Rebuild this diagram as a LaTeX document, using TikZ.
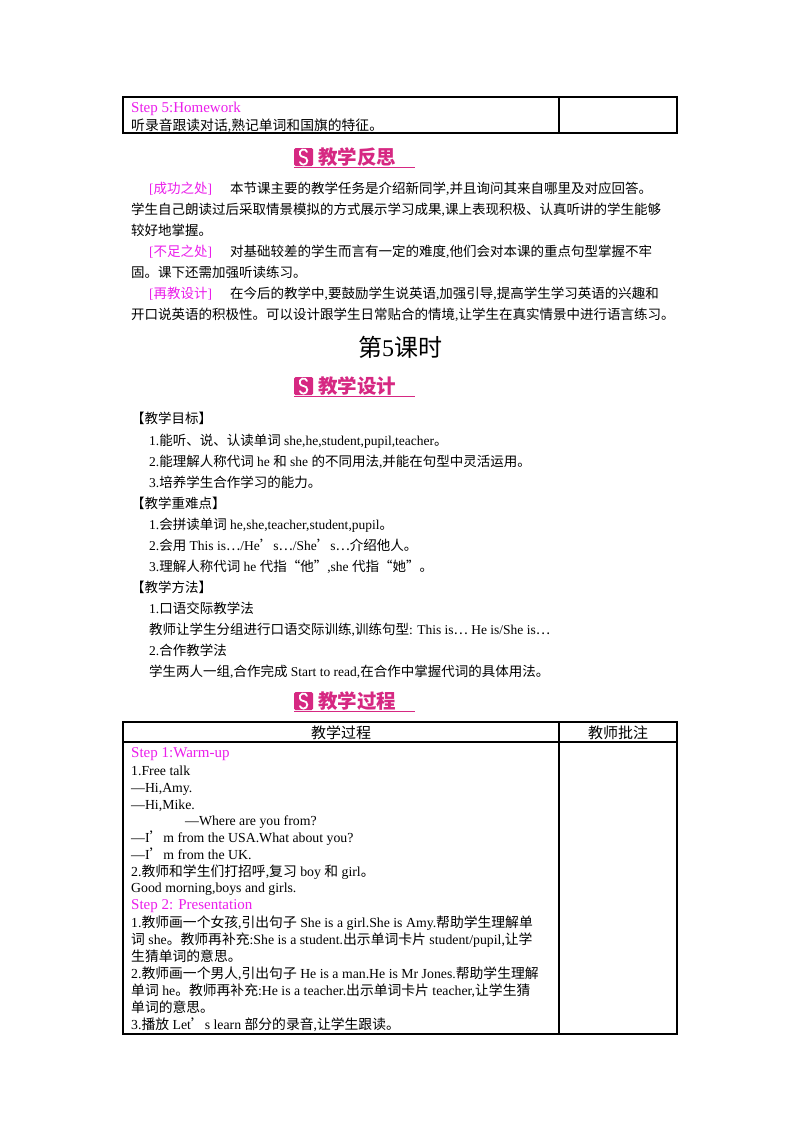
\documentclass[tikz,border=0pt]{standalone}
\usepackage{fontspec}
\setmainfont{Liberation Serif}
\newfontfamily\cjk{Noto Sans CJK SC}
\XeTeXinterchartokenstate=1
\newXeTeXintercharclass\cjkclass
\count255="4E00
\loop\XeTeXcharclass\count255=\cjkclass\advance\count255 by 1\ifnum\count255<"A000\repeat
\count255="3000
\loop\XeTeXcharclass\count255=\cjkclass\advance\count255 by 1\ifnum\count255<"3040\repeat
\count255="FF01
\loop\XeTeXcharclass\count255=\cjkclass\advance\count255 by 1\ifnum\count255<"FF5F\repeat
\XeTeXcharclass"2018=\cjkclass \XeTeXcharclass"2019=\cjkclass
\XeTeXcharclass"201C=\cjkclass \XeTeXcharclass"201D=\cjkclass
\XeTeXcharclass"2026=\cjkclass
\XeTeXinterchartoks 0 \cjkclass={\cjk}
\XeTeXinterchartoks 4095 \cjkclass={\cjk}
\XeTeXinterchartoks \cjkclass 0={\rmfamily}
\XeTeXinterchartoks \cjkclass 4095={\rmfamily}
\definecolor{mag}{RGB}{235,30,235}
\definecolor{ban}{RGB}{214,40,130}
\tikzset{
 txt/.style={anchor=base west,inner sep=0,font=\fontsize{13.5}{14}\selectfont},
 tt/.style={anchor=base west,inner sep=0,font=\fontsize{13.8}{15}\selectfont},
 st/.style={anchor=base west,inner sep=0,text=mag,font=\fontsize{15}{16}\selectfont},
 bantxt/.style={anchor=west,inner sep=0,text=ban,font=\cjk\bfseries\fontsize{19.5}{20}\selectfont},
 tab/.style={draw=black,line width=1.3pt}
}
\newcommand\banner[3]{%
 \fill[ban,rounded corners=1.5pt] (#1,#2-9) rectangle ++(19,18);
 \draw[white,line width=1.8pt,line cap=round] ([shift={(#1+9.5,#2-3.8)}]-20:3.8) arc (-20:-270:3.8) arc (-90:160:3.8);
 \node[bantxt] at (#1+24,#2) {#3};
 \draw[ban,line width=0.6pt] (#1,#2+10) -- (#1+121,#2+10);}
\begin{document}
\begin{tikzpicture}[x=1pt,y=-1pt]
\useasboundingbox[fill=white] (0,0) rectangle (800,1132);
% top table
\draw[tab] (123,97) rectangle (677,133);
\draw[tab] (559,97) -- (559,133);
\node[st] at (131,112) {Step 5:Homework};
\node[tt] at (131,130) {听录音跟读对话,熟记单词和国旗的特征。};
\banner{294}{157}{教学反思}
\node[txt,text=mag] at (149,193) {[成功之处]};
\node[txt] at (230,193) {本节课主要的教学任务是介绍新同学,并且询问其来自哪里及对应回答。};
\node[txt] at (131,214) {学生自己朗读过后采取情景模拟的方式展示学习成果,课上表现积极、认真听讲的学生能够};
\node[txt] at (131,235) {较好地掌握。};
\node[txt,text=mag] at (149,256) {[不足之处]};
\node[txt] at (230,256) {对基础较差的学生而言有一定的难度,他们会对本课的重点句型掌握不牢};
\node[txt] at (131,277) {固。课下还需加强听读练习。};
\node[txt,text=mag] at (149,298) {[再教设计]};
\node[txt] at (230,298) {在今后的教学中,要鼓励学生说英语,加强引导,提高学生学习英语的兴趣和};
\node[txt] at (131,319) {开口说英语的积极性。可以设计跟学生日常贴合的情境,让学生在真实情景中进行语言练习。};
\node[anchor=base,inner sep=0,font=\fontsize{24}{26}\selectfont] at (400,356) {第5课时};
\banner{294}{386}{教学设计}
\node[txt] at (131,423) {【教学目标】};
\node[txt] at (149,445) {1.能听、说、认读单词 she,he,student,pupil,teacher。};
\node[txt] at (149,466) {2.能理解人称代词 he 和 she 的不同用法,并能在句型中灵活运用。};
\node[txt] at (149,487) {3.培养学生合作学习的能力。};
\node[txt] at (131,508) {【教学重难点】};
\node[txt] at (149,529) {1.会拼读单词 he,she,teacher,student,pupil。};
\node[txt] at (149,550) {2.会用 This is…/He’s…/She’s…介绍他人。};
\node[txt] at (149,571) {3.理解人称代词 he 代指“他”,she 代指“她”。};
\node[txt] at (131,592) {【教学方法】};
\node[txt] at (149,613) {1.口语交际教学法};
\node[txt] at (149,634) {教师让学生分组进行口语交际训练,训练句型: This is… He is/She is…};
\node[txt] at (149,655) {2.合作教学法};
\node[txt] at (149,676) {学生两人一组,合作完成 Start to read,在合作中掌握代词的具体用法。};
\banner{294}{701}{教学过程}
% main table
\draw[tab] (123,722) rectangle (677,1034);
\draw[tab] (123,742) -- (677,742);
\draw[tab] (559,722) -- (559,1034);
\node[anchor=base,inner sep=0,font=\fontsize{15}{16}\selectfont] at (341,738) {教学过程};
\node[anchor=base,inner sep=0,font=\fontsize{15}{16}\selectfont] at (618,738) {教师批注};
\node[st] at (131,757) {Step 1:Warm-up};
\node[tt] at (131,775) {1.Free talk};
\node[tt] at (131,792) {—Hi,Amy.};
\node[tt] at (131,809) {—Hi,Mike.};
\node[tt] at (185,825) {—Where are you from?};
\node[tt] at (131,842) {—I’m from the USA.What about you?};
\node[tt] at (131,859) {—I’m from the UK.};
\node[tt] at (131,876) {2.教师和学生们打招呼,复习 boy 和 girl。};
\node[tt] at (131,892) {Good morning,boys and girls.};
\node[st] at (131,909) {Step 2: Presentation};
\node[tt] at (131,927) {1.教师画一个女孩,引出句子 She is a girl.She is Amy.帮助学生理解单};
\node[tt] at (131,944) {词 she。教师再补充:She is a student.出示单词卡片 student/pupil,让学};
\node[tt] at (131,961) {生猜单词的意思。};
\node[tt] at (131,978) {2.教师画一个男人,引出句子 He is a man.He is Mr Jones.帮助学生理解};
\node[tt] at (131,995) {单词 he。教师再补充:He is a teacher.出示单词卡片 teacher,让学生猜};
\node[tt] at (131,1012) {单词的意思。};
\node[tt] at (131,1029) {3.播放 Let’s learn 部分的录音,让学生跟读。};
\end{tikzpicture}
\end{document}
